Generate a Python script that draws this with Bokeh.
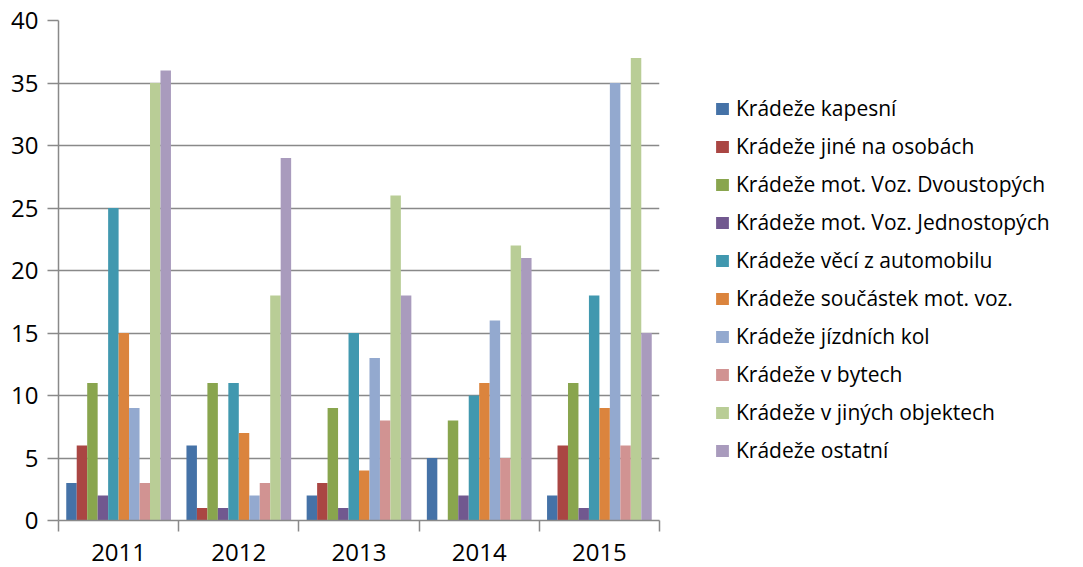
from bokeh.plotting import figure
from bokeh.models import Legend, LegendItem, FixedTicker, Range1d
from bokeh.transform import dodge
from bokeh.embed import file_html
from bokeh.resources import INLINE

years = ["2011", "2012", "2013", "2014", "2015"]
series_names = [
    "Krádeže kapesní",
    "Krádeže jiné na osobách",
    "Krádeže mot. Voz. Dvoustopých",
    "Krádeže mot. Voz. Jednostopých",
    "Krádeže věcí z automobilu",
    "Krádeže součástek mot. voz.",
    "Krádeže jízdních kol",
    "Krádeže v bytech",
    "Krádeže v jiných objektech",
    "Krádeže ostatní",
]
kapesni = [3, 6, 2, 5, 2]
jine_na_osobach = [6, 1, 3, 0, 6]
dvoustopych = [11, 11, 9, 8, 11]
jednostopych = [2, 1, 1, 2, 1]
veci_z_automobilu = [25, 11, 15, 10, 18]
soucastek = [15, 7, 4, 11, 9]
jizdnich_kol = [9, 2, 13, 16, 35]
v_bytech = [3, 3, 8, 5, 6]
v_jinych_objektech = [35, 18, 26, 22, 37]
ostatni = [36, 29, 18, 21, 15]
values = [kapesni, jine_na_osobach, dvoustopych, jednostopych, veci_z_automobilu,
          soucastek, jizdnich_kol, v_bytech, v_jinych_objektech, ostatni]
colors = ["#4572A7", "#AA4643", "#89A54E", "#71588F", "#4198AF",
          "#DB843D", "#93A9CF", "#D19392", "#B9CD96", "#A99BBD"]

FONT = "Open Sans"
GRID = "#898989"

p = figure(frame_width=601, frame_height=500, output_backend="svg", toolbar_location=None,
           x_range=Range1d(0, 5), y_range=Range1d(0, 40),
           min_border_left=58, min_border_right=0, min_border_top=20, min_border_bottom=46)
p.outline_line_color = None
p.background_fill_color = "white"

centers = [i + 0.5 for i in range(len(years))]
bw = 0.0871
items = []
for k, (name, vals, col) in enumerate(zip(series_names, values, colors)):
    src = dict(x=centers, top=vals)
    r = p.vbar(x=dodge("x", (k - 4.5) * bw, range=p.x_range), top="top", width=bw,
               source=src, fill_color=col, line_color=None)
    items.append(LegendItem(label=name, renderers=[r]))

p.xgrid.visible = False
p.ygrid.grid_line_color = GRID
p.ygrid.grid_line_width = 1.5
p.ygrid.ticker = FixedTicker(ticks=list(range(0, 41, 5)))

p.yaxis.ticker = FixedTicker(ticks=list(range(0, 41, 5)))
p.yaxis.axis_line_color = GRID
p.yaxis.axis_line_width = 1.5
p.yaxis.major_tick_line_color = GRID
p.yaxis.major_tick_line_width = 1.5
p.yaxis.major_tick_out = 11
p.yaxis.major_tick_in = 0
p.yaxis.minor_tick_line_color = None
p.yaxis.major_label_text_font = FONT
p.yaxis.major_label_text_font_size = "24px"
p.yaxis.major_label_text_color = "black"
p.yaxis.major_label_standoff = 9

p.xaxis.ticker = FixedTicker(ticks=centers, minor_ticks=list(range(0, 6)))
p.xaxis.major_label_overrides = {c: y for c, y in zip(centers, years)}
p.xaxis.axis_line_color = GRID
p.xaxis.axis_line_width = 1.5
p.xaxis.major_tick_line_color = None
p.xaxis.minor_tick_line_color = GRID
p.xaxis.minor_tick_line_width = 1.5
p.xaxis.minor_tick_out = 11
p.xaxis.minor_tick_in = 0
p.xaxis.major_label_text_font = FONT
p.xaxis.major_label_text_font_size = "24px"
p.xaxis.major_label_text_color = "black"
p.xaxis.major_label_standoff = 12

legend = Legend(items=items, location=(55, 56))
legend.border_line_color = None
legend.background_fill_alpha = 0
legend.padding = 0
legend.margin = 0
legend.glyph_width = 16
legend.glyph_height = 15
legend.label_standoff = 6
legend.label_height = 27
legend.spacing = 10
legend.label_text_font = FONT
legend.label_text_font_size = "21px"
legend.label_text_color = "black"
p.add_layout(legend, "right")

open("out.html", "w").write(file_html(p, INLINE))
